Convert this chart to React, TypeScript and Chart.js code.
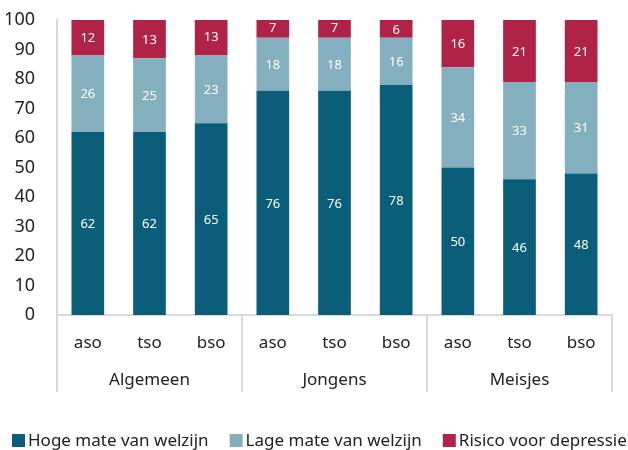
import React, { useEffect, useRef } from "react";
import { Chart, registerables } from "chart.js";
Chart.register(...registerables);

const schoolTypes = ["aso", "tso", "bso", "aso", "tso", "bso", "aso", "tso", "bso"];
const groups = ["Algemeen", "Jongens", "Meisjes"];
const hoge = [62, 62, 65, 76, 76, 78, 50, 46, 48];
const lage = [26, 25, 23, 18, 18, 16, 34, 33, 31];
const risico = [12, 13, 13, 7, 7, 6, 16, 21, 21];
const seriesNames = ["Hoge mate van welzijn", "Lage mate van welzijn", "Risico voor depressie"];
const colors = ["#0b5e7a", "#83afbe", "#b12346"];
const FONT = "'Noto Sans', sans-serif";

const labelPlugin = {
  id: "valueLabels",
  afterDatasetsDraw(chart: any) {
    const ctx = chart.ctx;
    ctx.save();
    ctx.font = `13px ${FONT}`;
    ctx.fillStyle = "#ffffff";
    ctx.textAlign = "center";
    ctx.textBaseline = "middle";
    chart.data.datasets.forEach((ds: any, di: number) => {
      const meta = chart.getDatasetMeta(di);
      meta.data.forEach((el: any, i: number) => {
        const y = (el.y + el.base) / 2;
        ctx.fillText(String(ds.data[i]), el.x, y + 1);
      });
    });
    ctx.restore();
  },
};

const groupPlugin = {
  id: "groupAxis",
  afterDraw(chart: any) {
    const ctx = chart.ctx;
    const xs = chart.scales.x;
    const top = chart.chartArea.bottom;
    const n = schoolTypes.length;
    const step = (xs.right - xs.left) / n;
    ctx.save();
    ctx.strokeStyle = "#d9d9d9";
    ctx.lineWidth = 2;
    for (let g = 0; g <= groups.length; g++) {
      const x = Math.round(xs.left + g * 3 * step);
      ctx.beginPath();
      ctx.moveTo(x, top);
      ctx.lineTo(x, top + 77);
      ctx.stroke();
    }
    ctx.font = `17px ${FONT}`;
    ctx.fillStyle = "#222222";
    ctx.textAlign = "center";
    ctx.textBaseline = "middle";
    groups.forEach((g, i) => {
      const cx = xs.left + (i * 3 + 1.5) * step;
      ctx.fillText(g, cx, top + 65);
    });
    // legend
    let x = 12;
    const ly = 441;
    seriesNames.forEach((name, i) => {
      ctx.fillStyle = colors[i];
      ctx.fillRect(x, ly - 7, 13, 13);
      ctx.fillStyle = "#222222";
      ctx.textAlign = "left";
      ctx.fillText(name, x + 16, ly);
      x += 16 + ctx.measureText(name).width + 21;
    });
    ctx.restore();
  },
};

export default function App() {
  const ref = useRef<HTMLCanvasElement>(null);
  useEffect(() => {
    const chart = new Chart(ref.current!, {
      type: "bar",
      data: {
        labels: schoolTypes,
        datasets: [
          { label: seriesNames[0], data: hoge, backgroundColor: colors[0] },
          { label: seriesNames[1], data: lage, backgroundColor: colors[1] },
          { label: seriesNames[2], data: risico, backgroundColor: colors[2] },
        ].map((d) => ({ ...d, categoryPercentage: 1, barPercentage: 0.53, borderWidth: 0 })),
      },
      options: {
        animation: false,
        responsive: false,
        maintainAspectRatio: false,
        layout: { padding: { top: 20, right: 16, left: 0, bottom: 0 } },
        plugins: { legend: { display: false }, tooltip: { enabled: false } },
        scales: {
          x: {
            stacked: true,
            grid: { display: false },
            border: { display: true, color: "#d9d9d9", width: 2 },
            ticks: { color: "#222222", font: { family: FONT, size: 17 }, padding: 10 },
            afterFit(scale: any) {
              scale.height = 135;
            },
          },
          y: {
            stacked: true,
            min: 0,
            max: 100,
            grid: { display: false },
            border: { display: true, color: "#d9d9d9", width: 2 },
            ticks: { stepSize: 10, color: "#222222", font: { family: FONT, size: 18 }, padding: 14 },
            afterFit(scale: any) {
              scale.width = 57;
              scale.paddingTop = 0;
              scale.paddingBottom = 0;
            },
          },
        },
      },
      plugins: [labelPlugin, groupPlugin],
    });
    return () => chart.destroy();
  }, []);
  return (
    <div style={{ position: "fixed", left: 0, top: 0, width: 628, height: 450, background: "#fff" }}>
      <canvas ref={ref} width={628} height={450} style={{ width: 628, height: 450 }} />
    </div>
  );
}
